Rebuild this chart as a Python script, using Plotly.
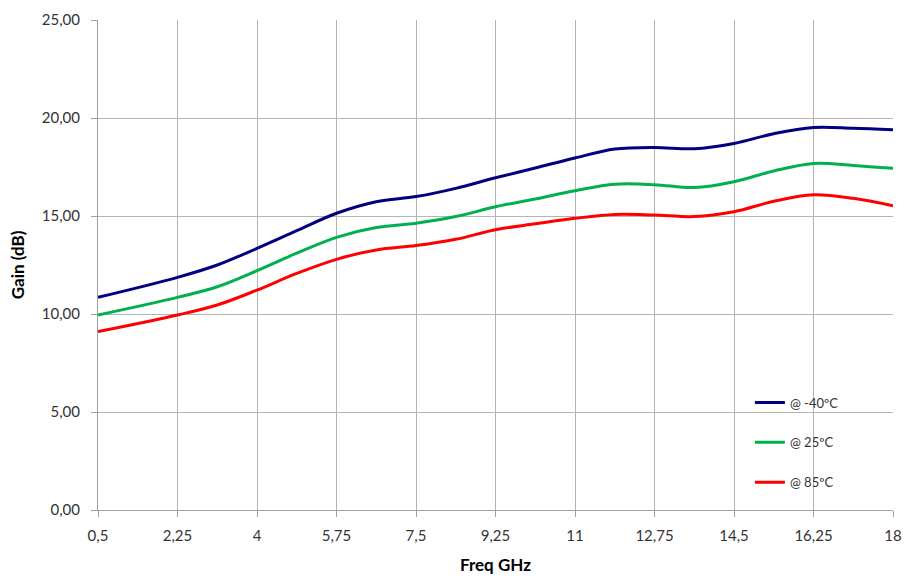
import plotly.graph_objects as go

freq = [0.5, 2.25, 3.125, 4, 4.875, 5.75, 6.625, 7.5, 8.375, 9.25, 10.125, 11,
        11.875, 12.75, 13.625, 14.5, 15.375, 16.25, 17.125, 18]
gain_m40 = [10.85, 11.87, 12.5, 13.35, 14.25, 15.14, 15.73, 15.99, 16.41, 16.95, 17.45, 17.96,
            18.42, 18.5, 18.43, 18.7, 19.2, 19.52, 19.48, 19.4]
gain_25 = [9.95, 10.85, 11.39, 12.21, 13.1, 13.91, 14.41, 14.63, 14.97, 15.47, 15.87, 16.29,
           16.62, 16.6, 16.45, 16.75, 17.3, 17.68, 17.58, 17.43]
gain_85 = [9.1, 9.95, 10.46, 11.22, 12.07, 12.79, 13.27, 13.49, 13.81, 14.3, 14.6, 14.88,
           15.08, 15.05, 14.97, 15.22, 15.75, 16.08, 15.9, 15.52]

x_tick_vals = [0.5, 2.25, 4, 5.75, 7.5, 9.25, 11, 12.75, 14.5, 16.25, 18]
x_tick_labels = ["0,5", "2,25", "4", "5,75", "7,5", "9,25", "11", "12,75", "14,5", "16,25", "18"]
y_tick_vals = [0, 5, 10, 15, 20, 25]

series = [
    ("@ -40ºC", gain_m40, "#000080"),
    ("@ 25ºC", gain_25, "#00b050"),
    ("@ 85ºC", gain_85, "#ff0000"),
]

fig = go.Figure()
for name, vals, color in series:
    fig.add_trace(go.Scatter(
        x=freq, y=vals, name=name, mode="lines", legendgroup=name,
        line=dict(color=color, width=3, shape="spline", smoothing=1.0),
    ))

font_family = "Lato, Open Sans, sans-serif"
fig.update_layout(
    width=907, height=576,
    margin=dict(l=98, r=14, t=20, b=66, autoexpand=False),
    paper_bgcolor="white", plot_bgcolor="white",
    separators=",.",
    font=dict(family=font_family, size=15, color="#333333"),
    showlegend=True,
    legend=dict(
        x=0.82, y=0.25, xanchor="left", yanchor="top",
        bgcolor="rgba(0,0,0,0)", font=dict(size=13, color="#333333"),
        tracegroupgap=20,
    ),
    xaxis=dict(
        range=[0.5, 18], tickmode="array", tickvals=x_tick_vals, ticktext=x_tick_labels,
        showgrid=True, gridcolor="#b4b4b4", gridwidth=1,
        showline=True, linecolor="#a0a0a0", linewidth=1,
        ticks="outside", ticklen=6, tickcolor="#a0a0a0",
        zeroline=False, automargin=False, ticklabeloverflow="allow",
        ticklabelstandoff=6,
        title=dict(text="<b>Freq GHz</b>", font=dict(size=17, color="#000000"), standoff=16),
    ),
    yaxis=dict(
        range=[0, 25], tickmode="array", tickvals=y_tick_vals, tickformat=".2f",
        showgrid=True, gridcolor="#b4b4b4", gridwidth=1,
        showline=True, linecolor="#a0a0a0", linewidth=1,
        ticks="outside", ticklen=6, tickcolor="#a0a0a0",
        zeroline=False, automargin=False,
        ticklabelstandoff=8,
        title=dict(text="<b>Gain (dB)</b>", font=dict(size=17, color="#000000"), standoff=12),
    ),
)

fig.write_html(
    "out.html",
    config={"displayModeBar": False},
    post_script="document.body.style.margin='0';document.body.style.overflow='hidden';",
)
